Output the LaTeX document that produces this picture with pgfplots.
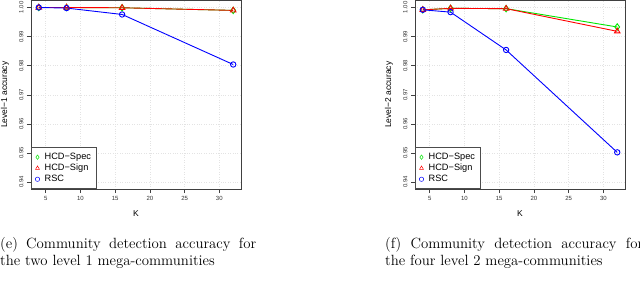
\documentclass[border=0pt]{standalone}
\usepackage{fontspec}
\setsansfont{Liberation Sans}
\usepackage{pgfplots}
\pgfplotsset{compat=1.18}
\definecolor{rgreen}{RGB}{0,230,0}
\definecolor{rred}{RGB}{255,0,0}
\definecolor{rblue}{RGB}{0,0,255}
\pgfplotsset{
  racc/.style={
    scale only axis, width=210pt, height=188.5pt,
    xmin=2.88, xmax=33.12, ymin=0.9376, ymax=1.0024,
    xtick={5,10,15,20,25,30},
    ytick={0.94,0.95,0.96,0.97,0.98,0.99,1.00},
    tick pos=left, tick align=outside, major tick length=4pt,
    axis line style={black!75, line width=0.6pt},
    every tick/.style={black!75, line width=0.5pt},
    grid=major, grid style={gray!22, dotted, line width=0.5pt},
    /pgf/number format/assume math mode=true,
    ticklabel style={font=\fontsize{6}{7}\sffamily, color=black!80},
    yticklabel style={rotate=90, anchor=south, /pgf/number format/.cd, fixed, fixed zerofill, precision=2},
    xticklabel style={/pgf/number format/.cd, fixed, precision=0},
    label style={font=\fontsize{8.5}{10}\sffamily},
    xlabel={K},
    xlabel style={at={(axis description cs:0.5,-0.133)}, anchor=center},
    ylabel style={at={(axis description cs:-0.124,0.5)}, anchor=center},
    legend cell align=left,
    legend style={at={(0,0)}, anchor=south west, draw=black!70, line width=0.6pt, fill=white,
      font=\fontsize{9.2}{10}\sffamily, inner xsep=4pt, inner ysep=4.5pt, row sep=1pt,
      nodes={inner sep=1pt},
      /tikz/every odd column/.append style={column sep=4pt}},
    legend image code/.code={\draw[##1, mark size=2.2pt, mark options={solid, line width=0.5pt}] plot coordinates {(0.1cm,0cm)};},
  },
  gs/.style={rgreen, line width=0.9pt, mark=diamond, mark size=3.2pt, mark options={solid, line width=0.9pt}},
  rs/.style={rred, line width=0.9pt, mark=triangle, mark size=3.2pt, mark options={solid, line width=0.9pt}},
  bs/.style={rblue, line width=0.9pt, mark=o, mark size=2.7pt, mark options={solid, line width=0.9pt}},
}
\begin{document}
\begin{tikzpicture}
\useasboundingbox (0pt,0pt) rectangle (640pt,287pt);
\begin{axis}[racc, at={(31pt,98pt)}, anchor=south west, ylabel={Level\textminus 1 accuracy}]
\addplot[gs] coordinates {(4,1.0000) (8,1.0000) (16,0.9999) (32,0.9990)};
\addplot[rs] coordinates {(4,1.0000) (8,1.0000) (16,0.9999) (32,0.9990)};
\addplot[bs] coordinates {(4,1.0000) (8,0.9998) (16,0.9976) (32,0.9804)};
\legend{HCD\textminus Spec, HCD\textminus Sign, RSC}
\end{axis}
\begin{axis}[racc, at={(415pt,98pt)}, anchor=south west, ylabel={Level\textminus 2 accuracy}]
\addplot[gs] coordinates {(4,0.9992) (8,0.9997) (16,0.9996) (32,0.9933)};
\addplot[rs] coordinates {(4,0.9992) (8,0.9997) (16,0.9996) (32,0.9918)};
\addplot[bs] coordinates {(4,0.9992) (8,0.9984) (16,0.9854) (32,0.9502)};
\legend{HCD\textminus Spec, HCD\textminus Sign, RSC}
\end{axis}
\begin{scope}
\clip (0pt,0pt) rectangle (640pt,287pt);
\node[anchor=base west, inner sep=0pt, align=left, font=\fontsize{14.8}{16.5}\selectfont] at (0pt,22pt)
  {\makebox[256pt][s]{(e) Community detection accuracy for}\\the two level 1 mega-communities};
\node[anchor=base west, inner sep=0pt, align=left, font=\fontsize{14.8}{16.5}\selectfont] at (385pt,22pt)
  {\makebox[258pt][s]{(f) Community detection accuracy for}\\the four level 2 mega-communities};
\end{scope}
\end{tikzpicture}
\end{document}
